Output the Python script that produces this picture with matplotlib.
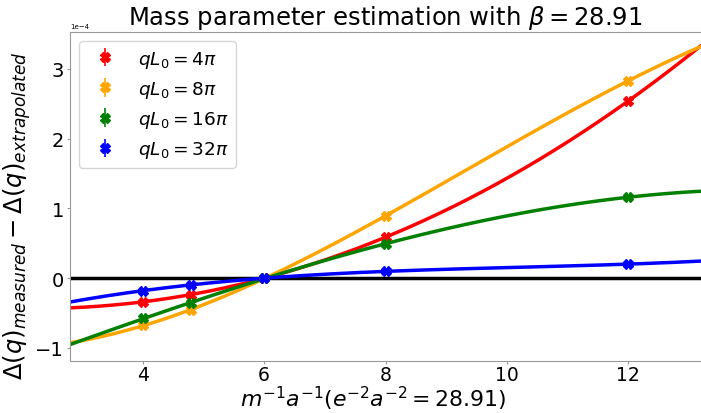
import numpy as np
import matplotlib
matplotlib.use("Agg")
import matplotlib.pyplot as plt

# inverse mass values (m^-1 a^-1)
m_inv = [4.0, 4.8, 6.0, 8.0, 12.0]

# Delta(q)_measured - Delta(q)_extrapolated, in units of 1e-4
delta_4pi = [-0.34, -0.24, 0.0, 0.585, 2.54]
delta_8pi = [-0.68, -0.46, 0.0, 0.89, 2.83]
delta_16pi = [-0.58, -0.36, 0.0, 0.49, 1.16]
delta_32pi = [-0.18, -0.10, 0.0, 0.095, 0.20]
err = [0.03, 0.03, 0.03, 0.03, 0.03]

labels = [r"$qL_0 = 4\pi$", r"$qL_0 = 8\pi$", r"$qL_0 = 16\pi$", r"$qL_0 = 32\pi$"]
colors = ["red", "orange", "green", "blue"]
series = [delta_4pi, delta_8pi, delta_16pi, delta_32pi]

fig = plt.figure(figsize=(7.01, 4.14), dpi=100)
ax = fig.add_axes([70 / 701, 52 / 414, 631 / 701, 329 / 414])

xlo, xhi = 2.8, 13.2
xs = np.linspace(xlo, xhi, 400)
x = np.array(m_inv)

for ys, c, lab in zip(series, colors, labels):
    ys = np.array(ys) * 1e-4
    # cubic fit through the measured points, as in the original analysis
    coef = np.polyfit(x, ys, 3)
    ax.plot(xs, np.polyval(coef, xs), color=c, lw=2.5)
    ax.errorbar(x, ys, yerr=np.array(err) * 1e-4, fmt="X", color=c,
                markersize=7, elinewidth=1.2, label=lab)

ax.axhline(0, color="black", lw=2.5, zorder=1)

ax.set_xlim(xlo, xhi)
ax.set_ylim(-1.19e-4, 3.53e-4)
ax.set_xticks([4, 6, 8, 10, 12])
ax.set_yticks([-1e-4, 0, 1e-4, 2e-4, 3e-4])
ax.ticklabel_format(axis="y", style="sci", scilimits=(0, 0))
ax.tick_params(labelsize=14, length=2, pad=2.5, color="#999999")
ax.tick_params(axis="x", labelsize=13.5, pad=1)
ax.yaxis.get_offset_text().set_fontsize(5)

for s in ["left", "top", "bottom"]:
    ax.spines[s].set_color("#999999")
ax.spines["right"].set_visible(False)

ax.set_title(r"Mass parameter estimation with $\beta = 28.91$", fontsize=17.5)
ax.set_xlabel(r"$m^{-1}a^{-1}(e^{-2}a^{-2} = 28.91)$", fontsize=15.8)
ax.xaxis.label.set_va("bottom")
ax.set_ylabel(r"$\Delta(q)_{measured} - \Delta(q)_{extrapolated}$", fontsize=17.5)
ax.xaxis.set_label_coords(0.48, -0.155)
ax.yaxis.set_label_coords(-0.058, 0.444)

ax.legend(loc="upper left", fontsize=13.3, borderpad=0.4, handletextpad=0.8,
          labelspacing=0.5, borderaxespad=0.5)

fig.savefig("out.png", dpi=100)
